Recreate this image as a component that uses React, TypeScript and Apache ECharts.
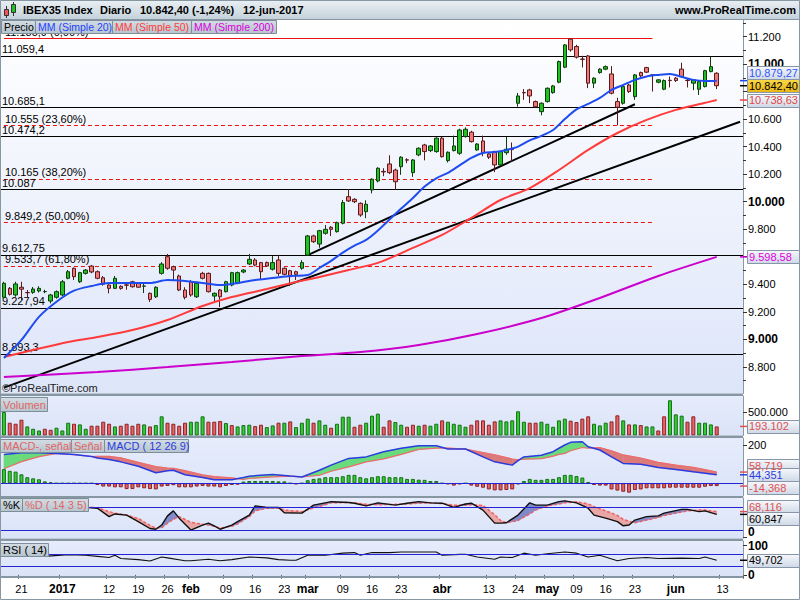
import React, { useEffect, useRef } from 'react';
import * as echarts from 'echarts';

const FF = '"Liberation Sans", Arial, Helvetica, sans-serif';

// ---------- categories (trading days) ----------
const tradingDays: [string, number[]][] = [
  ['2016-12', [16, 19, 20, 21, 22, 23, 27, 28, 29, 30]],
  ['2017-01', [2, 3, 4, 5, 6, 9, 10, 11, 12, 13, 16, 17, 18, 19, 20, 23, 24, 25, 26, 27, 30, 31]],
  ['2017-02', [1, 2, 3, 6, 7, 8, 9, 10, 13, 14, 15, 16, 17, 20, 21, 22, 23, 24, 27, 28]],
  ['2017-03', [1, 2, 3, 6, 7, 8, 9, 10, 13, 14, 15, 16, 17, 20, 21, 22, 23, 24, 27, 28, 29, 30, 31]],
  ['2017-04', [3, 4, 5, 6, 7, 10, 11, 12, 13, 18, 19, 20, 21, 24, 25, 26, 27, 28]],
  ['2017-05', [2, 3, 4, 5, 8, 9, 10, 11, 12, 15, 16, 17, 18, 19, 22, 23, 24, 25, 26, 29, 30, 31]],
  ['2017-06', [1, 2, 5, 6, 7, 8, 9, 12, 13, 14, 15, 16]],
];
const dates = tradingDays.flatMap(([m, ds]) => ds.map((d) => `${m}-${String(d).padStart(2, '0')}`));

const xTickLabels: [string, string][] = [
  ['2016-12-21', '21'], ['2017-01-02', '2017'], ['2017-01-12', '12'], ['2017-01-19', '19'],
  ['2017-01-26', '26'], ['2017-02-01', 'feb'], ['2017-02-09', '09'], ['2017-02-16', '16'],
  ['2017-02-23', '23'], ['2017-03-01', 'mar'], ['2017-03-09', '09'], ['2017-03-16', '16'],
  ['2017-03-23', '23'], ['2017-04-03', 'abr'], ['2017-04-13', '13'], ['2017-04-24', '24'],
  ['2017-05-02', 'may'], ['2017-05-09', '09'], ['2017-05-16', '16'], ['2017-05-23', '23'],
  ['2017-06-01', 'jun'], ['2017-06-13', '13'],
];
const boldXLabels = ['2017', 'feb', 'mar', 'abr', 'may', 'jun'];

// price axis: labelled ticks (10.800 and 9.600 sit under the value tags), minor ticks
const priceTicks = [8800, 9000, 9200, 9400, 9600, 9800, 10000, 10200, 10400, 10600, 10800, 11000, 11200];
const priceTickLabels = [8800, 9000, 9200, 9400, 9800, 10000, 10200, 10400, 10600, 11000, 11200];
const priceMinor = [8700, 8900, 9100, 9300, 9500, 9700, 9900, 10100, 10300, 10500, 10700, 10900, 11100, 11300];

// ---------- price: [open, close, low, high] ----------
const ohlc: number[][] = [
  [9305, 9407, 9298, 9418], [9370, 9327, 9318, 9380], [9322, 9402, 9309, 9418], [9378, 9364, 9285, 9418],
  [9340, 9338, 9305, 9358], [9341, 9365, 9330, 9380], [9351, 9370, 9340, 9385], [9346, 9347, 9335, 9360],
  [9278, 9322, 9261, 9330], [9305, 9346, 9295, 9355],
  [9322, 9418, 9315, 9431], [9443, 9491, 9436, 9503], [9516, 9455, 9431, 9522], [9418, 9484, 9409, 9490],
  [9479, 9503, 9470, 9510], [9532, 9489, 9480, 9540], [9491, 9443, 9436, 9500], [9447, 9400, 9390, 9460],
  [9394, 9370, 9334, 9400], [9370, 9443, 9365, 9460], [9385, 9370, 9360, 9392], [9395, 9393, 9360, 9410],
  [9418, 9382, 9375, 9425], [9407, 9378, 9375, 9412], [9386, 9387, 9336, 9405], [9334, 9290, 9271, 9340],
  [9309, 9378, 9300, 9385], [9479, 9547, 9470, 9560], [9600, 9516, 9505, 9620], [9527, 9503, 9431, 9535],
  [9460, 9358, 9350, 9470], [9358, 9305, 9290, 9378],
  [9418, 9322, 9310, 9430], [9309, 9407, 9300, 9415], [9479, 9443, 9435, 9490], [9479, 9346, 9340, 9485],
  [9314, 9334, 9263, 9340], [9358, 9309, 9234, 9365], [9346, 9418, 9340, 9425], [9394, 9484, 9385, 9490],
  [9407, 9484, 9400, 9492], [9489, 9503, 9480, 9510], [9547, 9581, 9540, 9620], [9576, 9539, 9530, 9590],
  [9557, 9491, 9431, 9562], [9557, 9532, 9525, 9565], [9509, 9557, 9500, 9605], [9576, 9479, 9460, 9613],
  [9516, 9472, 9465, 9522], [9498, 9455, 9387, 9505], [9491, 9472, 9431, 9498], [9516, 9557, 9505, 9575],
  [9612, 9751, 9605, 9758], [9751, 9709, 9700, 9760], [9692, 9789, 9665, 9795], [9770, 9799, 9760, 9830],
  [9814, 9799, 9750, 9822], [9782, 9847, 9775, 9855], [9843, 9993, 9835, 10012], [10036, 10005, 9998, 10092],
  [10017, 10000, 9990, 10025], [9988, 9903, 9890, 9995], [9927, 9981, 9880, 10010], [10085, 10163, 10060, 10170],
  [10150, 10243, 10140, 10250], [10220, 10216, 10185, 10243], [10274, 10211, 10200, 10337], [10230, 10145, 10087, 10240],
  [10254, 10323, 10195, 10330], [10304, 10302, 10280, 10315], [10211, 10303, 10180, 10310], [10340, 10388, 10330, 10395],
  [10412, 10364, 10300, 10420], [10371, 10405, 10360, 10412], [10364, 10461, 10355, 10468],
  [10461, 10327, 10320, 10470], [10298, 10359, 10285, 10365], [10371, 10405, 10365, 10480], [10352, 10521, 10340, 10530],
  [10473, 10526, 10465, 10540], [10505, 10436, 10430, 10515], [10376, 10419, 10370, 10425], [10441, 10356, 10330, 10480],
  [10347, 10323, 10310, 10355], [10364, 10267, 10215, 10370], [10267, 10364, 10260, 10370], [10356, 10381, 10340, 10470],
  [10380, 10378, 10290, 10430], [10715, 10768, 10690, 10790], [10793, 10791, 10740, 10818], [10812, 10768, 10716, 10820],
  [10727, 10690, 10680, 10735], [10654, 10715, 10627, 10722],
  [10727, 10824, 10720, 10830], [10792, 10841, 10785, 10848], [10868, 11018, 10860, 11025], [10977, 11139, 10970, 11145],
  [11181, 11103, 11090, 11185], [11127, 11050, 11040, 11140], [11036, 11034, 10975, 11060], [11059, 10861, 10825, 11065],
  [10861, 10897, 10825, 10905], [10938, 10963, 10930, 10970], [10963, 10981, 10955, 10990], [10928, 10788, 10780, 10985],
  [10727, 10686, 10555, 10755], [10715, 10836, 10705, 10845], [10848, 10800, 10790, 10855], [10763, 10921, 10740, 10928],
  [10938, 10914, 10905, 10945], [10974, 10941, 10935, 10980], [10921, 10920, 10800, 10925], [10868, 10885, 10860, 10890],
  [10817, 10880, 10810, 10888], [10882, 10880, 10830, 10910],
  [10897, 10880, 10870, 10905], [10963, 10909, 10900, 11010], [10882, 10880, 10830, 10895], [10861, 10885, 10810, 10890],
  [10817, 10872, 10775, 10878], [10836, 10952, 10830, 10958], [10945, 10981, 10940, 11054], [10933, 10842.4, 10818, 10940],
];

// moving averages, read as [day index, value]
const ma20: number[][] = [
  [0, 8864], [3, 8995], [6, 9163], [9, 9273], [12, 9353], [15, 9387], [18, 9409], [21, 9409], [25, 9409],
  [28, 9431], [31, 9424], [34, 9409], [37, 9394], [40, 9409], [43, 9431], [46, 9445], [49, 9460], [52, 9467],
  [54, 9518], [56, 9570], [58, 9630], [60, 9680], [62, 9722], [64, 9790], [66, 9870], [68, 9950], [70, 10027],
  [72, 10110], [74, 10170], [76, 10209], [78, 10264], [80, 10318], [82, 10354], [84, 10361], [86, 10376],
  [88, 10400], [90, 10445], [92, 10478], [94, 10521], [96, 10600], [98, 10670], [100, 10710], [102, 10754],
  [104, 10812], [106, 10848], [108, 10885], [110, 10910], [112, 10921], [114, 10928], [116, 10907],
  [118, 10885], [120, 10877], [122, 10879.27],
];
const ma50: number[][] = [
  [0, 8871], [5, 8922], [11, 8980], [16, 9016], [22, 9067], [28, 9140], [34, 9242], [39, 9307], [45, 9365],
  [50, 9416], [54, 9453], [59, 9504], [64, 9555], [70, 9664], [75, 9758], [80, 9882], [85, 10012], [90, 10099],
  [95, 10230], [100, 10376], [105, 10499], [110, 10594], [115, 10667], [120, 10718], [122, 10738.63],
];
const ma200: number[][] = [
  [0, 8726], [16, 8762], [28, 8798], [39, 8835], [51, 8878], [61, 8907], [71, 8958], [81, 9038], [92, 9154],
  [102, 9300], [112, 9460], [122, 9598.58],
];

// horizontal levels and trend lines
const levels: [number, string][] = [
  [11059.4, '11.059,4'], [10685.1, '10.685,1'], [10474.2, '10.474,2'], [10087, '10.087'],
  [9612.75, '9.612,75'], [9227.94, '9.227,94'], [8893.3, '8.893,3'],
];
const fibLevels: [number, string][] = [
  [11185.9, '11.185,9 (0,00%)'], [10555, '10.555 (23,60%)'], [10165, '10.165 (38,20%)'],
  [9849.2, '9.849,2 (50,00%)'], [9533.7, '9.533,7 (61,80%)'],
];
const fibStart = '2016-12-16';
const fibEnd = '2017-05-26';
const trendLines: [string, number, string, number][] = [
  ['2016-12-16', 8649, '2017-06-16', 10581],
  ['2017-03-01', 9612, '2017-05-23', 10708],
];

// volume
const volume: number[] = [
  500000, 272000, 250000, 336000, 193000, 143000, 107000, 143000, 122000, 165000,
  107000, 272000, 250000, 236000, 143000, 208000, 208000, 293000, 250000, 193000,
  208000, 250000, 208000, 250000, 236000, 193000, 222000, 408000, 272000, 250000,
  208000, 272000, 293000, 293000, 408000, 293000, 293000, 307000, 265000, 222000,
  193000, 222000, 229000, 200000, 229000, 179000, 215000, 272000, 272000, 300000,
  179000, 272000, 358000, 272000, 322000, 229000, 165000, 250000, 400000, 400000,
  186000, 229000, 272000, 422000, 465000, 186000, 322000, 286000, 229000, 186000,
  229000, 208000, 229000, 208000, 250000, 322000, 293000, 250000, 229000, 186000,
  229000, 322000, 322000, 229000, 300000, 322000, 300000, 322000, 515000, 293000,
  272000, 272000, 293000, 250000, 186000, 322000, 358000, 315000, 286000, 358000,
  408000, 250000, 215000, 272000, 300000, 429000, 322000, 236000, 236000, 222000,
  193000, 193000, 107000, 408000, 750000, 450000, 422000, 293000, 408000, 272000,
  272000, 236000, 193102,
];
const volumeUp: number[] = [
  1, 0, 0, 0, 1, 1, 1, 0, 0, 1, 1, 1, 0, 1, 1, 0, 0, 0, 0, 1, 0, 0, 0, 0, 1, 0, 1, 1, 0, 0,
  0, 0, 1, 1, 1, 0, 0, 0, 1, 0, 1, 1, 1, 0, 0, 1, 1, 0, 1, 0, 1, 1, 1, 0, 1, 1, 0, 1, 1, 1,
  0, 0, 1, 1, 1, 0, 0, 1, 1, 0, 0, 1, 0, 1, 1, 0, 1, 1, 1, 1, 0, 0, 0, 0, 0, 1, 1, 1, 1, 1,
  0, 0, 1, 1, 1, 1, 1, 0, 0, 0, 0, 1, 1, 1, 0, 0, 1, 0, 1, 0, 1, 1, 0, 0, 1, 1, 1, 0, 0, 1,
  1, 1, 0,
];

// MACD (12 26 9)
const macdIdx = [0, 3, 6, 9, 12, 15, 16, 18, 20, 23, 26, 28, 29, 31, 34, 36, 39, 41, 42, 44, 46, 49, 51, 54, 56, 59,
  62, 65, 68, 71, 74, 76, 79, 82, 84, 87, 88, 89, 92, 94, 95, 96, 97, 99, 100, 102, 104, 106, 109, 112, 115, 118, 120, 122];
const macdLine = [150, 160, 160, 156, 150, 140, 132, 124, 112, 89, 55, 66, 68, 45, 30, 18, 19, 30, 37, 42, 46, 38, 33, 68, 95, 130,
  138, 165, 183, 196, 196, 179, 179, 138, 112, 95, 118, 138, 147, 165, 183, 200, 214, 217, 191, 174, 138, 104, 100, 83, 72, 60, 53, 44.351];
const macdSignal = [76, 113, 139, 156, 150, 140, 141, 141, 133, 110, 87, 80, 78, 66, 44, 35, 28, 21, 25, 30, 34, 38, 33, 42, 63, 86,
  112, 128, 151, 177, 184, 184, 179, 161, 149, 127, 123, 126, 129, 142, 151, 156, 170, 187, 184, 186, 170, 148, 132, 109, 95, 83, 71, 58.719];
const macdHist: number[] = [
  74, 65, 61, 47, 32, 26, 21, 10, 5, 0, 0, 0, 0, 0, 0, 0, -9, -17, -17, -21,
  -21, -30, -30, -21, -26, -30, -32, -17, -14, -10, -21, -21, -21, -17, -14, -17, -17, -21, -14, -9,
  -7, 9, 12, 12, 12, 12, 12, 10, 10, 0, -5, 0, 16, 23, 26, 32, 32, 32, 37, 44,
  44, 32, 26, 32, 37, 37, 32, 32, 32, 23, 23, 19, 18, 12, 12, 0, -5, -12, -5, 0,
  -12, -18, -23, -32, -37, -37, -35, -32, -5, 12, 23, 18, 18, 23, 23, 32, 44, 44, 38, 30,
  7, -9, -12, -12, -32, -38, -44, -49, -35, -32, -26, -26, -26, -26, -23, -23, -23, -23, -23, -23,
  -18, -14, -14.368,
];

// Stochastic %K / %D (14 3 5)
const stochIdx = [14, 16, 18, 19, 21, 23, 25, 26, 27, 28, 29, 30, 32, 34, 35, 36, 37, 39, 40, 42, 43, 45, 47, 48, 51, 53, 55, 56,
  59, 60, 62, 64, 67, 69, 71, 73, 75, 77, 79, 80, 82, 84, 85, 86, 88, 90, 91, 93, 95, 96, 98, 100, 101, 103, 105, 106, 107,
  108, 110, 112, 113, 116, 117, 119, 120, 122];
const stochK = [79, 77, 55, 62, 59, 42, 24, 22, 33, 57, 70, 51, 20, 33, 38, 31, 22, 33, 42, 59, 83, 79, 79, 65, 64, 85, 91, 94,
  92, 90, 83, 91, 85, 90, 94, 91, 90, 79, 88, 90, 72, 38, 38, 39, 59, 91, 85, 85, 94, 96, 91, 77, 59, 51, 42, 31, 33,
  46, 55, 57, 64, 74, 74, 68, 70, 60.847];
const stochD = [81, 78, 68, 64, 59, 50, 32, 25, 26, 38, 48, 55, 40, 35, 33, 30, 25, 30, 36, 55, 70, 77, 78, 72, 68, 78, 86, 91,
  92, 91, 87, 86, 87, 88, 90, 91, 89, 85, 85, 86, 84, 60, 45, 39, 45, 62, 72, 83, 88, 91, 94, 88, 81, 70, 58, 48, 43,
  39, 46, 53, 58, 67, 70, 72, 72, 68.116];

// RSI (14)
const rsiPts: number[][] = [
  [7, 63], [11, 69], [14, 67], [16, 63], [18, 59], [19, 67], [20, 56], [23, 52], [25, 47], [27, 61], [28, 58],
  [31, 48], [32, 48], [35, 53], [37, 48], [39, 52], [42, 61], [45, 58], [47, 52], [49, 50], [50, 50], [52, 67],
  [55, 67], [58, 74], [60, 76], [61, 67], [63, 76], [66, 76], [68, 78], [72, 78], [74, 78], [75, 67], [78, 70],
  [79, 70], [81, 61], [84, 53], [85, 61], [87, 59], [89, 74], [91, 67], [93, 72], [96, 78], [98, 74], [100, 61],
  [102, 67], [105, 48], [107, 56], [110, 59], [112, 56], [116, 57], [119, 56], [120, 61], [122, 49.702],
];

// ---------- helpers ----------
const fmtNum = (v: number, dec: number) => {
  const s = Math.abs(v).toFixed(dec);
  const [i, f] = s.split('.');
  return (v < 0 ? '-' : '') + i.replace(/\B(?=(\d{3})+(?!\d))/g, '.') + (f ? ',' + f : '');
};
const lg = (a: string, b: string) =>
  new echarts.graphic.LinearGradient(0, 0, 0, 1, [{ offset: 0, color: a }, { offset: 1, color: b }]);

const GRID_L = 1;
const GRID_R = 57;
const AXIS_COLOR = '#8a99a6';

function fillBetween(xAxisIndex: number, yAxisIndex: number, idx: number[], a: number[], b: number[], pos: string, neg: string) {
  return {
    type: 'custom',
    xAxisIndex,
    yAxisIndex,
    silent: true,
    z: 1,
    clip: true,
    encode: { x: 0, y: 1 },
    data: idx.slice(0, -1).map((x, k) => [x, a[k]]),
    renderItem: (params: any, api: any) => {
      const k = params.dataIndex;
      const A0 = api.coord([idx[k], a[k]]);
      const B0 = api.coord([idx[k], b[k]]);
      const A1 = api.coord([idx[k + 1], a[k + 1]]);
      const B1 = api.coord([idx[k + 1], b[k + 1]]);
      const d0 = a[k] - b[k];
      const d1 = a[k + 1] - b[k + 1];
      const poly = (pts: number[][], up: boolean) => ({
        type: 'polygon',
        shape: { points: pts },
        style: { fill: up ? pos : neg, stroke: up ? pos : neg, lineWidth: 0.5 },
      });
      const children: any[] = [];
      if (d0 * d1 >= 0) {
        if (d0 !== 0 || d1 !== 0) children.push(poly([A0, A1, B1, B0], d0 + d1 > 0));
      } else {
        const t = d0 / (d0 - d1);
        const C = [A0[0] + t * (A1[0] - A0[0]), A0[1] + t * (A1[1] - A0[1])];
        children.push(poly([A0, C, B0], d0 > 0));
        children.push(poly([C, A1, B1], d1 > 0));
      }
      return { type: 'group', children };
    },
  };
}

function buildOption(): any {
  const labelMap = new Map(xTickLabels);
  const grids = [
    { top: 20, height: 373.5, bg: lg('#ffffff', '#dde5f9') },
    { top: 396, height: 39.5, bg: lg('#e6ecfb', '#dae3f8') },
    { top: 438, height: 58, bg: lg('#e6ecfb', '#dae3f8') },
    { top: 498, height: 40, bg: lg('#e6ecfb', '#dae3f8') },
    { top: 541, height: 35, bg: lg('#e6ecfb', '#dae3f8') },
  ].map((g) => ({
    left: GRID_L, right: GRID_R, top: g.top, height: g.height, show: true,
    backgroundColor: g.bg, borderWidth: 0,
  }));

  const xAxes = grids.map((_, gi) => ({
    type: 'category', gridIndex: gi, data: dates, boundaryGap: true,
    axisLine: { show: false },
    splitLine: { show: false },
    axisTick: gi === 4
      ? { show: true, length: 4, interval: (_i: number, v: string) => labelMap.has(v), lineStyle: { color: '#666' } }
      : { show: false },
    axisLabel: gi === 4
      ? {
          show: true, interval: (_i: number, v: string) => labelMap.has(v), margin: 7,
          fontFamily: FF, fontSize: 11, color: '#000',
          formatter: (v: string) => {
            const t = labelMap.get(v) || '';
            return boldXLabels.includes(t) ? `{b|${t}}` : t;
          },
          rich: { b: { fontWeight: 'bold', fontSize: 12, fontFamily: FF, color: '#000' } },
        }
      : { show: false },
  }));

  const baseY = {
    type: 'value', position: 'right', scale: true, splitLine: { show: false },
    axisLine: { show: true, lineStyle: { color: AXIS_COLOR, width: 1 } },
  };
  const lbl = (extra: any) => ({ fontFamily: FF, fontSize: 11, color: '#000', margin: 5, ...extra });
  const yAxes = [
    {
      ...baseY, gridIndex: 0, min: 8606, max: 11320,
      axisTick: { show: true, length: 4, customValues: priceTicks, lineStyle: { color: '#333' } },
      axisLabel: lbl({
        customValues: priceTickLabels,
        formatter: (v: number) => (v % 1000 === 0 ? `{b|${fmtNum(v, 0)}}` : fmtNum(v, 0)),
        rich: { b: { fontWeight: 'bold', fontSize: 12, fontFamily: FF, color: '#000' } },
      }),
    },
    {
      ...baseY, gridIndex: 0, min: 8606, max: 11320, axisLine: { show: false },
      axisTick: { show: true, length: 3, customValues: priceMinor, lineStyle: { color: '#333' } },
      axisLabel: { show: false },
    },
    {
      ...baseY, gridIndex: 1, min: 0, max: 840425,
      axisTick: { show: true, length: 4, customValues: [500000], lineStyle: { color: '#333' } },
      axisLabel: lbl({ customValues: [500000], formatter: (v: number) => fmtNum(v, 0) }),
    },
    {
      ...baseY, gridIndex: 2, min: -66.3, max: 236.6,
      axisTick: { show: true, length: 4, customValues: [200], lineStyle: { color: '#333' } },
      axisLabel: lbl({ customValues: [200], formatter: (v: number) => fmtNum(v, 0) }),
    },
    {
      ...baseY, gridIndex: 3, min: -0.8, max: 103.6,
      axisTick: { show: true, length: 4, customValues: [0], lineStyle: { color: '#333' } },
      axisLabel: lbl({ customValues: [0], fontWeight: 'bold', fontSize: 12, verticalAlign: 'bottom' }),
    },
    {
      ...baseY, gridIndex: 4, min: -4.1, max: 115.6,
      axisTick: { show: true, length: 4, customValues: [0, 100], lineStyle: { color: '#333' } },
      axisLabel: lbl({ customValues: [0, 100], fontWeight: 'bold', fontSize: 12 }),
    },
  ];

  const lineLabel = (text: string) => ({
    show: true, position: 'insideStartTop', formatter: text, color: '#000',
    fontFamily: FF, fontSize: 11, distance: [1, 1],
  });

  const markData: any[] = [
    ...levels.map(([v, t]) => ({
      yAxis: v, lineStyle: { color: '#000', width: 1, type: 'solid' }, label: lineLabel(t),
    })),
    ...fibLevels.map(([v, t], k) => [
      {
        coord: [fibStart, v],
        lineStyle: { color: '#ee1111', width: 1, type: k === 0 ? 'solid' : [4, 3] },
        label: lineLabel(t),
      },
      { coord: [fibEnd, v] },
    ]),
    ...trendLines.map(([d0, v0, d1, v1]) => [
      { coord: [d0, v0], lineStyle: { color: '#000', width: 2, type: 'solid' }, label: { show: false } },
      { coord: [d1, v1] },
    ]),
  ];

  const refLines = (vals: number[]) => ({
    silent: true, symbol: ['none', 'none'], animation: false,
    label: { show: false },
    lineStyle: { color: '#2424d6', width: 1.2, type: 'solid' },
    data: vals.map((v) => ({ yAxis: v })),
  });

  const series: any[] = [
    {
      type: 'candlestick', xAxisIndex: 0, yAxisIndex: 0, barWidth: 4, z: 3,
      data: ohlc,
      itemStyle: {
        color: '#22c022', color0: '#f07a7a', borderColor: '#0d3d0d', borderColor0: '#5a1818', borderWidth: 1,
      },
      markLine: {
        silent: true, symbol: ['none', 'none'], animation: false, z: 2,
        data: markData,
      },
    },
    {
      type: 'line', xAxisIndex: 0, yAxisIndex: 0, data: ma200, showSymbol: false, smooth: 0.3, z: 4,
      lineStyle: { color: '#cc00cc', width: 2 },
    },
    {
      type: 'line', xAxisIndex: 0, yAxisIndex: 0, data: ma50, showSymbol: false, smooth: 0.3, z: 4,
      lineStyle: { color: '#ff3b3b', width: 2 },
    },
    {
      type: 'line', xAxisIndex: 0, yAxisIndex: 0, data: ma20, showSymbol: false, smooth: 0.3, z: 4,
      lineStyle: { color: '#1f4cf0', width: 2 },
    },
    {
      type: 'bar', xAxisIndex: 1, yAxisIndex: 2, barWidth: 4,
      data: volume.map((v, i) => ({
        value: v,
        itemStyle: volumeUp[i]
          ? { color: '#33cc33', borderColor: '#167016', borderWidth: 1 }
          : { color: '#e86464', borderColor: '#8f2222', borderWidth: 1 },
      })),
    },
    fillBetween(2, 3, macdIdx, macdLine, macdSignal, '#6adb7c', '#dc7a7a'),
    {
      type: 'bar', xAxisIndex: 2, yAxisIndex: 3, barWidth: 4, z: 2,
      data: macdHist.map((v) => ({
        value: v,
        itemStyle: v >= 0
          ? { color: '#33cc33', borderColor: '#167016', borderWidth: 1 }
          : { color: '#e86464', borderColor: '#8f2222', borderWidth: 1 },
      })),
    },
    {
      type: 'line', xAxisIndex: 2, yAxisIndex: 3, data: macdIdx.map((x, k) => [x, macdSignal[k]]),
      showSymbol: false, z: 3, lineStyle: { color: '#ee6b6b', width: 1.2 },
    },
    {
      type: 'line', xAxisIndex: 2, yAxisIndex: 3, data: macdIdx.map((x, k) => [x, macdLine[k]]),
      showSymbol: false, z: 4, lineStyle: { color: '#2a3ce0', width: 1.5 },
      markLine: refLines([0]),
    },
    fillBetween(3, 4, stochIdx, stochK, stochD, '#7f8acb', '#e9a6a6'),
    {
      type: 'line', xAxisIndex: 3, yAxisIndex: 4, data: stochIdx.map((x, k) => [x, stochD[k]]),
      showSymbol: false, z: 3, lineStyle: { color: '#f26060', width: 1.5, type: [3, 2] },
      markLine: refLines([20, 80]),
    },
    {
      type: 'line', xAxisIndex: 3, yAxisIndex: 4, data: stochIdx.map((x, k) => [x, stochK[k]]),
      showSymbol: false, z: 4, lineStyle: { color: '#111', width: 1.4 },
    },
    {
      type: 'line', xAxisIndex: 4, yAxisIndex: 5, data: rsiPts,
      showSymbol: false, z: 4, lineStyle: { color: '#111', width: 1.1 },
      markLine: refLines([30, 70]),
    },
  ];

  return {
    animation: false,
    backgroundColor: '#ffffff',
    textStyle: { fontFamily: FF },
    grid: grids,
    xAxis: xAxes,
    yAxis: yAxes,
    series,
  };
}

function staticGraphics(): any[] {
  const Z = 100;
  const txt = (x: number, y: number, text: string, fill: string, size = 11, weight = 'normal', align = 'left') => ({
    type: 'text', z: Z + 2, x, y,
    style: { text, fill, fontFamily: FF, fontSize: size, fontWeight: weight, textAlign: align, textVerticalAlign: 'middle' },
  });
  const box = (x: number, y: number, w: number, h: number) => ({
    type: 'rect', z: Z + 1, shape: { x: x + 0.5, y: y + 0.5, width: w, height: h },
    style: { fill: lg('#d3dce3', '#b7c4ce'), stroke: '#7d8d99', lineWidth: 1 },
  });
  const sep = (y: number, h = 2) => ({
    type: 'rect', z: Z, shape: { x: 0, y, width: 800 - GRID_R, height: h }, style: { fill: '#8796a3' },
  });
  return [
    // header
    { type: 'rect', z: Z, shape: { x: 0, y: 0, width: 800, height: 19 }, style: { fill: lg('#eaf0f4', '#c5d2db') } },
    { type: 'rect', z: Z, shape: { x: 0, y: 19, width: 800, height: 1 }, style: { fill: '#8796a3' } },
    { type: 'line', z: Z + 1, shape: { x1: 6.5, y1: 6, x2: 6.5, y2: 18 }, style: { stroke: '#333', lineWidth: 1 } },
    { type: 'rect', z: Z + 2, shape: { x: 4.5, y: 9.5, width: 4, height: 6 }, style: { fill: '#ee5555', stroke: '#333', lineWidth: 1 } },
    { type: 'line', z: Z + 1, shape: { x1: 13.5, y1: 2, x2: 13.5, y2: 16 }, style: { stroke: '#333', lineWidth: 1 } },
    { type: 'rect', z: Z + 2, shape: { x: 11.5, y: 4.5, width: 4, height: 8 }, style: { fill: '#22c022', stroke: '#333', lineWidth: 1 } },
    txt(23, 10, 'IBEX35 Index', '#000', 11, 'bold'),
    txt(100, 10, 'Diario', '#000', 11, 'bold'),
    txt(140, 10, '10.842,40 (-1,24%)', '#000', 11, 'bold'),
    txt(243, 10, '12-jun-2017', '#000', 11, 'bold'),
    txt(796, 10, 'www.ProRealTime.com', '#000', 11, 'bold', 'right'),
    // legend of main panel
    box(1, 20, 34, 13), txt(4, 27, 'Precio', '#000', 10.5),
    box(35, 20, 77, 13), txt(38, 27, 'MM (Simple 20)', '#2244ff', 10.5),
    box(112, 20, 79, 13), txt(115, 27, 'MM (Simple 50)', '#ff3c3c', 10.5),
    box(191, 20, 85, 13), txt(194, 27, 'MM (Simple 200)', '#dd00dd', 10.5),
    txt(2, 388, '©ProRealTime.com', '#222', 11),
    // panel separators
    sep(393.5, 2.5), sep(435.5, 2.5), sep(496, 2), sep(538.5, 2.5), sep(576, 2),
    // sub-panel labels
    box(0, 397, 47, 14), txt(3, 404.5, 'Volumen', '#e06666', 11),
    box(0, 439, 71, 13), txt(3, 446, 'MACD-, señal', '#e06666', 11),
    box(71, 439, 33, 13), txt(74, 446, 'Señal', '#e06666', 11),
    box(104, 439, 84, 13), txt(107, 446, 'MACD ( 12 26 9)', '#2a3ce0', 11),
    box(0, 498, 22, 13), txt(3, 505, '%K', '#000', 11),
    box(22, 498, 66, 13), txt(25, 505, '%D ( 14 3 5)', '#e06666', 11),
    box(0, 543, 48, 13), txt(3, 550, 'RSI ( 14)', '#000', 11),
    // frame
    { type: 'rect', z: Z + 5, shape: { x: 0.5, y: 0.5, width: 799, height: 599 }, style: { fill: 'none', stroke: '#8796a3', lineWidth: 1 } },
  ];
}

function tagGraphics(chart: any): any[] {
  const py = (axis: number, v: number) => chart.convertToPixel({ yAxisIndex: axis }, v) as number;
  const light = lg('#f6f8fc', '#cfd8e6');
  const gold = lg('#f9d94a', '#e9b514');
  const axisX = 800 - GRID_R;
  const tag = (y: number, vy: number, text: string, color: string, fill: any, tick: string) => [
    { type: 'line', z: 120, shape: { x1: axisX - 3, y1: vy, x2: axisX + 4, y2: vy }, style: { stroke: tick, lineWidth: 1.5 } },
    { type: 'rect', z: 121, shape: { x: axisX + 4.5, y: Math.round(y - 6.5) + 0.5, width: 52, height: 13 }, style: { fill, stroke: '#8796a8', lineWidth: 1 } },
    { type: 'text', z: 122, x: axisX + 6, y, style: { text, fill: color, fontFamily: FF, fontSize: 11, textVerticalAlign: 'middle' } },
  ];
  const lastClose = ohlc[ohlc.length - 1][1];
  const m20 = ma20[ma20.length - 1][1];
  const m50 = ma50[ma50.length - 1][1];
  const m200 = ma200[ma200.length - 1][1];
  const yP = py(0, lastClose);
  const y20 = py(0, m20);
  const y50 = py(0, m50);
  const yVol = py(2, volume[volume.length - 1]);
  const lastMacd = macdLine[macdLine.length - 1];
  const lastSig = macdSignal[macdSignal.length - 1];
  const lastHist = macdHist[macdHist.length - 1];
  const yM = py(3, lastMacd);
  const yS = py(3, lastSig);
  const yH = py(3, lastHist);
  const lastK = stochK[stochK.length - 1];
  const lastD = stochD[stochD.length - 1];
  const yK = py(4, lastK);
  const yD = py(4, lastD);
  const midKD = (yK + yD) / 2;
  const lastRsi = rsiPts[rsiPts.length - 1][1];
  const yR = py(5, lastRsi);
  const dec = (v: number) => fmtNum(v, 2);
  return [
    ...tag(Math.min(y20, yP - 13), y20, dec(m20), '#3355ff', light, '#1f4cf0'),
    ...tag(Math.max(y50, yP + 14), y50, dec(m50), '#e04848', light, '#ff3b3b'),
    ...tag(yP, yP, dec(lastClose), '#000', gold, '#000'),
    ...tag(py(0, m200), py(0, m200), dec(m200), '#dd00dd', light, '#cc00cc'),
    ...tag(yVol, yVol, fmtNum(volume[volume.length - 1], 0), '#e05050', light, '#e05050'),
    ...tag(Math.min(yS, yM - 9), yS, fmtNum(lastSig, 3), '#e05050', light, '#e05050'),
    ...tag(yM, yM, fmtNum(lastMacd, 3), '#2a3ce0', light, '#2a3ce0'),
    ...tag(Math.max(yH, yM + 13), yH, fmtNum(lastHist, 3), '#e05050', light, '#e05050'),
    ...tag(midKD - 6, yD, fmtNum(lastD, 3), '#e05050', light, '#e05050'),
    ...tag(midKD + 6, yK, fmtNum(lastK, 3), '#000', light, '#000'),
    ...tag(yR, yR, fmtNum(lastRsi, 3), '#000', light, '#000'),
  ];
}

export default function App() {
  const ref = useRef<HTMLDivElement>(null);
  useEffect(() => {
    const el = ref.current;
    if (!el) return;
    const chart = echarts.init(el, undefined, { renderer: 'svg' });
    chart.setOption(buildOption());
    chart.setOption({ graphic: [...staticGraphics(), ...tagGraphics(chart)] });
    return () => chart.dispose();
  }, []);
  return <div ref={ref} style={{ position: 'fixed', left: 0, top: 0, width: 800, height: 600 }} />;
}
